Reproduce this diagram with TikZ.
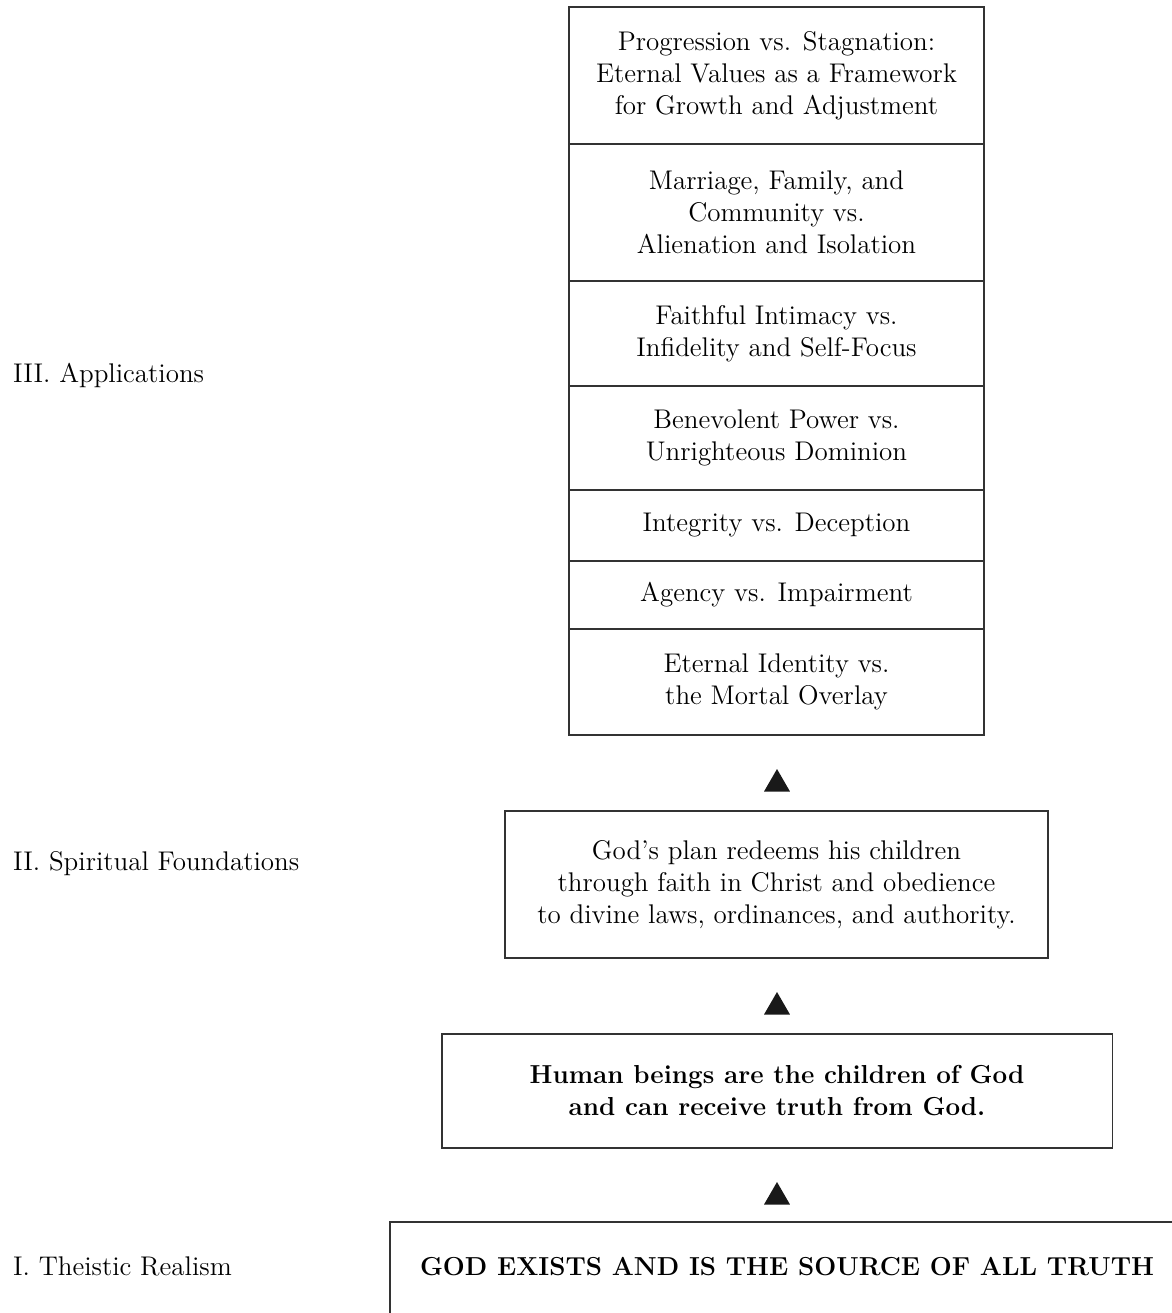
\documentclass[tikz,border=0pt]{standalone}
\usetikzlibrary{shapes.geometric}

\begin{document}
\begin{tikzpicture}[x=0.5pt,y=-0.5pt,
    txt/.style={font=\fontsize{13.5}{15.9}\selectfont},
    row/.style={txt,draw=black!80,line width=.8pt,minimum width=207.5pt,inner sep=0pt,align=center},
    box/.style={row,minimum width=#1},
    tri/.style={regular polygon,regular polygon sides=3,fill=black!90,inner sep=0pt,minimum size=15pt},
    lvl/.style={txt,anchor=base west,inner sep=0pt}]
  \useasboundingbox (0,0) rectangle (1172,1313);
  \clip (0,0) rectangle (1172,1313);
  % applications
  \node[row,minimum height=68.5pt] (r1) at (776.5,75.5) {Progression vs. Stagnation:\\Eternal Values as a Framework\\for Growth and Adjustment};
  \node[row,minimum height=68.5pt] (r2) at (776.5,212.5) {Marriage, Family, and\\Community vs.\\Alienation and Isolation};
  \node[row,minimum height=52.5pt] (r3) at (776.5,333.5) {Faithful Intimacy vs.\\Infidelity and Self-Focus};
  \node[row,minimum height=52pt] (r4) at (776.5,438) {Benevolent Power vs.\\Unrighteous Dominion};
  \node[row,minimum height=35.5pt] (r5) at (776.5,525.5) {Integrity vs. Deception};
  \node[row,minimum height=34pt] (r6) at (776.5,595) {Agency vs. Impairment};
  \node[row,minimum height=53pt] (r7) at (776.5,682) {Eternal Identity vs.\\the Mortal Overlay};
  % foundations
  \node[box=271.5pt,minimum height=73.5pt] (plan) at (776.5,884.5) {God's plan redeems his children\\through faith in Christ and obedience\\to divine laws, ordinances, and authority.};
  \node[box=335.3pt,minimum height=57pt,font=\fontsize{13}{15.9}\selectfont\bfseries] (human) at (777,1090.7) {Human beings are the children of God\\and can receive truth from God.};
  \node[box=397pt,anchor=north,font=\fontsize{13}{15.9}\selectfont\bfseries,text height=10pt,text depth=20pt,inner ysep=17pt] (god) at (787,1221) {GOD EXISTS AND IS THE SOURCE OF ALL TRUTH};
  % arrows
  \node[tri] (t1) at (777,784) {};
  \node[tri] (t2) at (777,1007) {};
  \node[tri] (t3) at (777,1197) {};
  % levels
  \node[lvl] (l3) at (12.7,382) {III. Applications};
  \node[lvl] (l2) at (12.7,870) {II. Spiritual Foundations};
  \node[lvl] (l1) at (12.7,1275) {I. Theistic Realism};
\end{tikzpicture}
\end{document}
